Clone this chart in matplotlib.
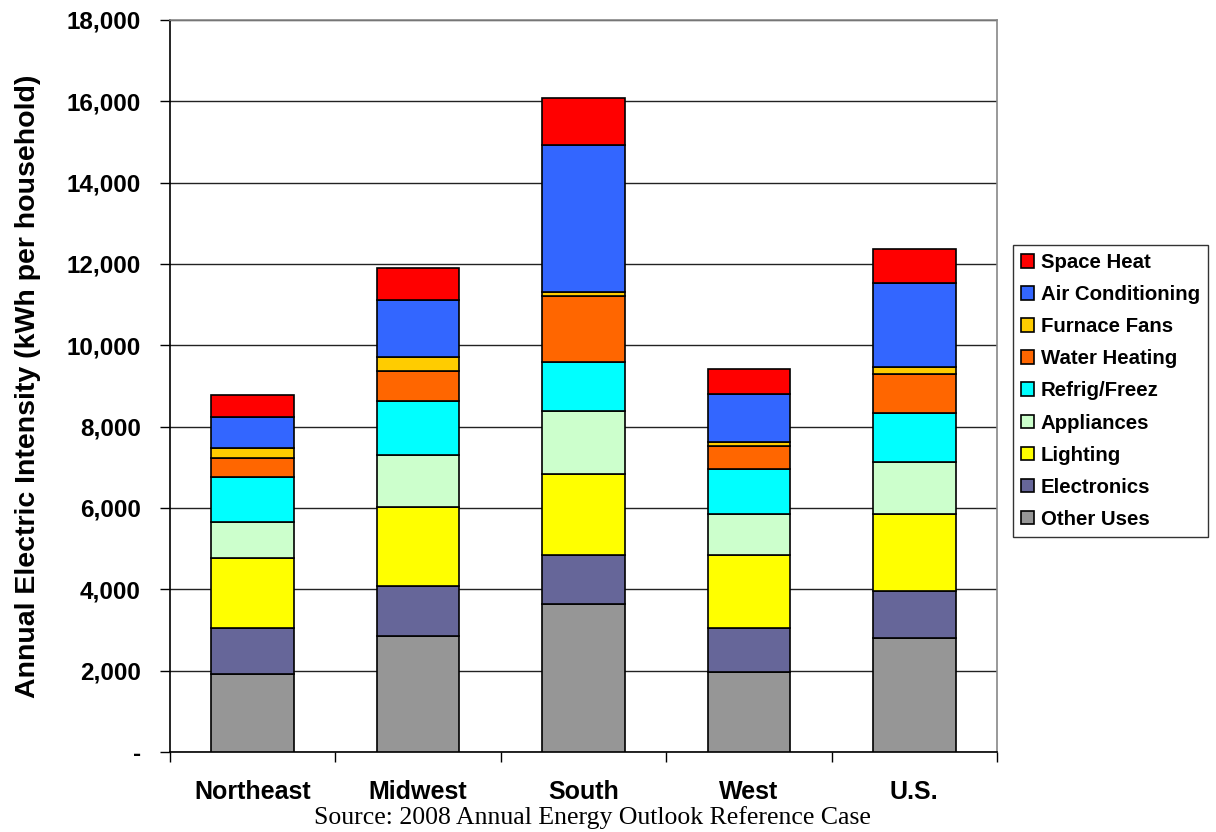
import matplotlib
matplotlib.use('Agg')
import matplotlib.pyplot as plt
from matplotlib.ticker import FuncFormatter
import numpy as np

regions = ['Northeast', 'Midwest', 'South', 'West', 'U.S.']

# end uses, bottom of the stack first (kWh per household)
other_uses = [1910, 2860, 3650, 1960, 2795]
electronics = [1150, 1215, 1195, 1090, 1170]
lighting = [1700, 1940, 1990, 1800, 1885]
appliances = [895, 1280, 1555, 1000, 1270]
refrig_freez = [1100, 1335, 1190, 1105, 1205]
water_heating = [475, 740, 1625, 565, 965]
furnace_fans = [255, 330, 100, 105, 180]
air_conditioning = [745, 1415, 3615, 1170, 2065]
space_heat = [560, 780, 1170, 630, 845]

series = [
    ('Other Uses', other_uses, '#969696'),
    ('Electronics', electronics, '#666699'),
    ('Lighting', lighting, '#FFFF00'),
    ('Appliances', appliances, '#CCFFCC'),
    ('Refrig/Freez', refrig_freez, '#00FFFF'),
    ('Water Heating', water_heating, '#FF6600'),
    ('Furnace Fans', furnace_fans, '#FFCC00'),
    ('Air Conditioning', air_conditioning, '#3366FF'),
    ('Space Heat', space_heat, '#FF0000'),
]

plt.rcParams['font.family'] = ['Liberation Sans', 'DejaVu Sans']

fig = plt.figure(figsize=(12.16, 8.32), dpi=100)
ax = fig.add_axes([0.1398, 0.0962, 0.6801, 0.8798])

x = np.arange(len(regions))
bottom = np.zeros(len(regions))
handles = []
for name, vals, col in series:
    b = ax.bar(x, vals, 0.5, bottom=bottom, color=col, edgecolor='black',
               linewidth=1.2, label=name, zorder=3)
    handles.append(b)
    bottom += np.array(vals)

ax.set_xlim(-0.5, len(regions) - 0.5)
ax.set_ylim(0, 18000)
ax.set_yticks(np.arange(0, 18001, 2000))
ax.yaxis.set_major_formatter(FuncFormatter(lambda v, p: '-' if v == 0 else f'{int(v):,}'))
ax.yaxis.grid(True, color='#222222', linewidth=1.0, zorder=0)

# category ticks sit between the bars, labels under the bars
ax.set_xticks(np.arange(-0.5, len(regions), 1.0))
ax.set_xticklabels([])
ax.set_xticks(x, minor=True)
ax.set_xticklabels(regions, minor=True, fontsize=18, fontweight='bold')
ax.tick_params(axis='x', which='minor', length=0, pad=20)
ax.tick_params(axis='x', which='major', length=7, width=1, direction='out')
ax.tick_params(axis='y', length=7, width=1, direction='out', labelsize=17.5, pad=14)
for lbl in ax.get_yticklabels():
    lbl.set_fontweight('bold')

ax.spines['left'].set_color('black')
ax.spines['bottom'].set_color('black')
ax.spines['top'].set_color('#888888')
ax.spines['right'].set_color('#888888')
for s in ax.spines.values():
    s.set_linewidth(1.2)

fig.text(28 / 1216, 0.536, 'Annual Electric Intensity (kWh per household)',
         rotation=90, ha='center', va='center', fontsize=20.5, fontweight='bold')

leg = ax.legend(handles[::-1], [s[0] for s in series][::-1],
                loc='upper left', bbox_to_anchor=(1013 / 1216, 1 - 245 / 832),
                bbox_transform=fig.transFigure,
                prop={'weight': 'bold', 'size': 14.7}, frameon=True,
                fancybox=False, edgecolor='black', handlelength=0.65,
                handleheight=0.65, handletextpad=0.3, labelspacing=0.64,
                borderpad=0.4, borderaxespad=0)
leg.get_frame().set_linewidth(1.0)

fig.text(592 / 1216, 0.017, 'Source: 2008 Annual Energy Outlook Reference Case',
         ha='center', va='center', fontsize=18.5, family='Liberation Serif')

fig.savefig('out.png', dpi=100)
